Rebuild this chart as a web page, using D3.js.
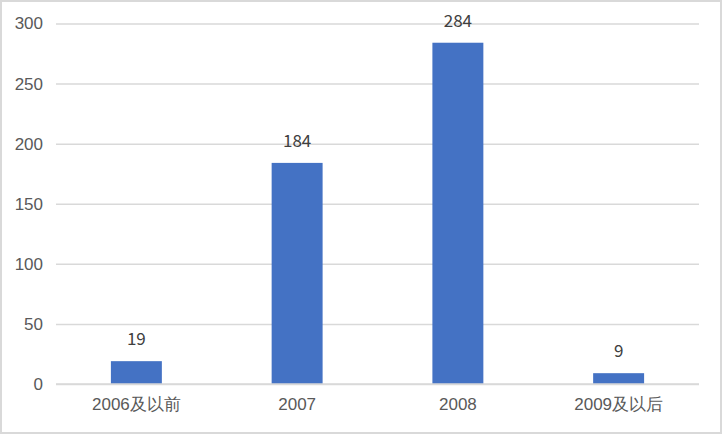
<!DOCTYPE html>
<html>
<head>
<meta charset="utf-8">
<script src="https://cdn.jsdelivr.net/npm/d3@7"></script>
<style>
  body { margin: 0; background: #fff; }
  svg { display: block; font-family: "Noto Sans CJK SC", "Noto Sans", sans-serif; }
  .axis text { fill: #595959; font-size: 17px; }
  .label { fill: #404040; font-size: 17px; }
</style>
</head>
<body>
<script>
(function (){

    //chart data
    var categories = ["2006及以前", "2007", "2008", "2009及以后"];
    var counts = [19, 184, 284, 9];
    var yTicks = [0, 50, 100, 150, 200, 250, 300];

    var width = 722,
        height = 434,
        left = 56,
        right = 699,
        top = 23.5,
        bottom = 384;

    var svg = d3.select("body")
        .append("svg")
        .attr("width", width)
        .attr("height", height);

    //outer frame
    svg.append("rect")
        .attr("x", 1)
        .attr("y", 1)
        .attr("width", width - 2)
        .attr("height", height - 2)
        .attr("fill", "#fff")
        .attr("stroke", "#d9d9d9")
        .attr("stroke-width", 2);

    var x = d3.scaleBand()
        .domain(categories)
        .range([left, right])
        .paddingInner(0.683)
        .paddingOuter(0.683 / 2);

    var y = d3.scaleLinear()
        .domain([0, 300])
        .range([bottom, top]);

    //gridlines + y labels
    var yAxis = svg.append("g")
        .attr("class", "axis")
        .attr("transform", "translate(" + left + ",0)")
        .call(d3.axisLeft(y).tickValues(yTicks).tickSize(-(right - left)).tickPadding(13));
    yAxis.select(".domain").remove();
    yAxis.selectAll(".tick line")
        .attr("stroke", "#d9d9d9")
        .attr("stroke-width", 1.5);

    //bars
    svg.selectAll(".bar")
        .data(counts)
        .enter()
        .append("rect")
        .attr("class", "bar")
        .attr("x", function(d, i){ return x(categories[i]); })
        .attr("width", x.bandwidth())
        .attr("y", function(d){ return y(d); })
        .attr("height", function(d){ return y(0) - y(d); })
        .attr("fill", "#4472c4");

    //value labels
    svg.selectAll(".label")
        .data(counts)
        .enter()
        .append("text")
        .attr("class", "label")
        .attr("text-anchor", "middle")
        .attr("x", function(d, i){ return x(categories[i]) + x.bandwidth() / 2; })
        .attr("y", function(d){ return y(d) - 16; })
        .text(function(d){ return d; });

    //x axis line and labels
    svg.append("line")
        .attr("x1", left)
        .attr("x2", right)
        .attr("y1", bottom)
        .attr("y2", bottom)
        .attr("stroke", "#d9d9d9")
        .attr("stroke-width", 1.5);

    var xAxis = svg.append("g")
        .attr("class", "axis")
        .attr("transform", "translate(0," + bottom + ")")
        .call(d3.axisBottom(x).tickSize(0).tickPadding(14));
    xAxis.select(".domain").remove();

})();
</script>
</body>
</html>
